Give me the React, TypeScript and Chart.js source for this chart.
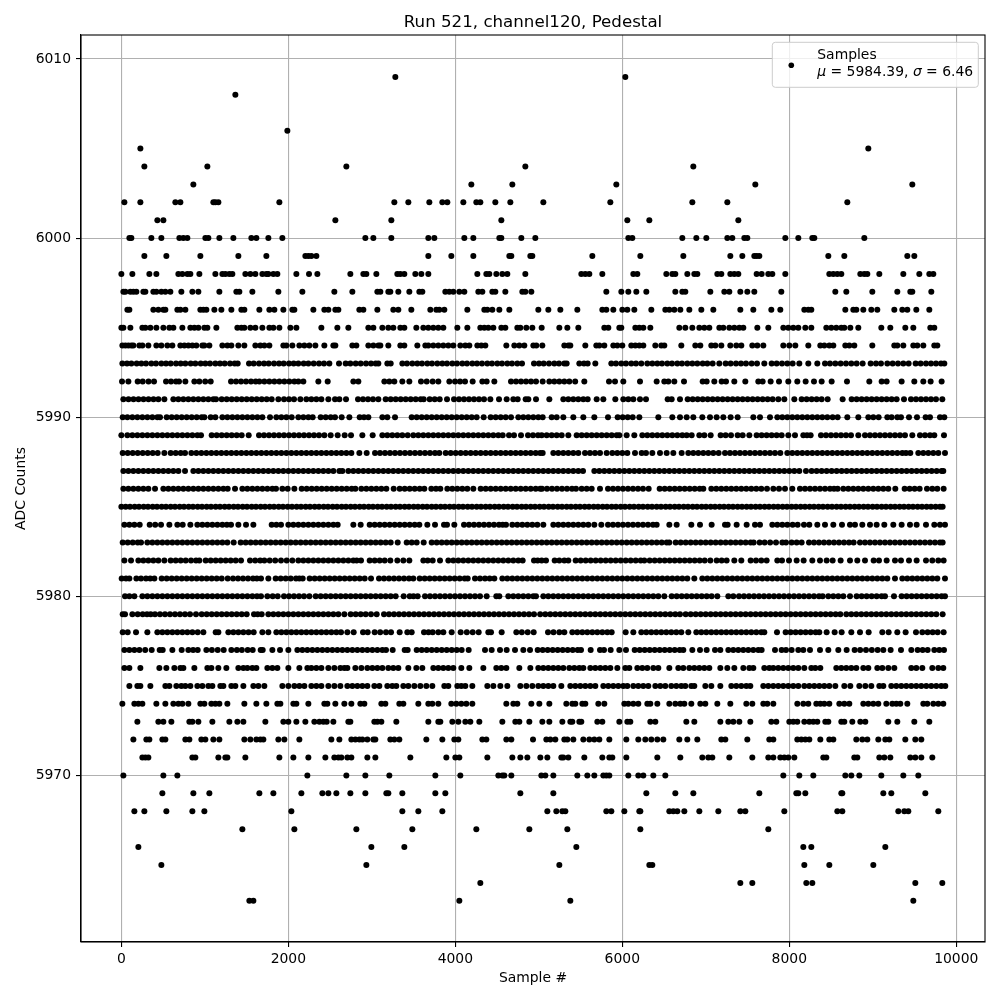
import React, { useEffect, useRef } from "react";
import { Chart, registerables } from "chart.js";

Chart.register(...registerables);

const chartTitle = "Run 521, channel120, Pedestal";
const xLabel = "Sample #";
const yLabel = "ADC Counts";
const legendName = "Samples";
const legendMu = "5984.39";
const legendSigma = "6.46";
const xTickValues = [0, 2000, 4000, 6000, 8000, 10000];
const yTickValues = [5970, 5980, 5990, 6000, 6010];

// Sample numbers for each ADC level.
const adc6009 = [3292, 6052];
const adc6008 = [1372];
const adc6006 = [1996];
const adc6005 = [232, 8968];
const adc6004 = [280, 1036, 2704, 4852, 6868];
const adc6003 = [868, 4204, 4696, 5944, 7612, 9496];
const adc6002 = [40, 232, 652, 712, 1108, 1132, 1168, 1900, 3280, 3448, 3700, 3856, 3916, 4108, 4264, 4312, 4492, 4672, 5068, 5872, 6856, 7276, 8716];
const adc6001 = [436, 508, 2572, 3244, 4564, 6076, 6340, 7408];
const adc6000 = [100, 124, 364, 484, 700, 748, 796, 1012, 1048, 1180, 1348, 1564, 1624, 1768, 1936, 2932, 3028, 3244, 3688, 3760, 4120, 4228, 4540, 4564, 4804, 4972, 6088, 6136, 6736, 6904, 7024, 7276, 7336, 7480, 7516, 7972, 8128, 8296, 8320, 8920];
const adc5999 = [280, 544, 952, 1408, 1744, 2212, 2248, 2284, 2344, 3688, 3964, 4228, 4660, 4684, 4912, 4936, 5656, 6232, 6748, 7312, 7456, 7600, 7628, 7660, 8488, 8680, 9436, 9520];
const adc5998 = [4, 136, 340, 424, 688, 736, 796, 832, 940, 1132, 1216, 1252, 1300, 1336, 1492, 1552, 1612, 1696, 1744, 1768, 1828, 1876, 2104, 2256, 2356, 2752, 2908, 2944, 3064, 3316, 3352, 3400, 3532, 3604, 3688, 4276, 4384, 4420, 4504, 4576, 4636, 4852, 5524, 5572, 5620, 5776, 6148, 6196, 6544, 6616, 6652, 6796, 6880, 6916, 7156, 7204, 7312, 7360, 7408, 7628, 7688, 7768, 7816, 7972, 8500, 8548, 8596, 8644, 8872, 8920, 8956, 9100, 9388, 9580, 9700, 9748];
const adc5997 = [28, 52, 112, 148, 184, 268, 292, 388, 424, 484, 532, 592, 724, 856, 928, 1180, 1384, 1420, 1576, 1888, 2176, 2560, 2776, 3076, 3112, 3208, 3232, 3328, 3460, 3580, 3616, 3892, 3940, 3988, 4060, 4120, 4288, 4336, 4456, 4492, 4612, 4816, 4852, 4924, 5824, 6004, 6088, 6184, 6304, 6652, 6736, 6772, 7072, 7240, 7300, 7432, 7516, 7600, 7924, 8572, 8704, 9016, 9316, 9472, 9496, 9724];
const adc5996 = [76, 100, 388, 448, 508, 532, 676, 712, 772, 952, 988, 1024, 1120, 1204, 1324, 1444, 1480, 1660, 1780, 1840, 1948, 2056, 2080, 2308, 2440, 2488, 2572, 2608, 2860, 2908, 3076, 3268, 3328, 3484, 3712, 3784, 3820, 3880, 4156, 4360, 4396, 4456, 4540, 4660, 5008, 5128, 5272, 5476, 5776, 5824, 5908, 6016, 6076, 6160, 6364, 6532, 6580, 6640, 6712, 6820, 6964, 7108, 7432, 7588, 7804, 7912, 8200, 8248, 8284, 8692, 8788, 8824, 8908, 9004, 9076, 9280, 9376, 9436, 9544, 9700];
const adc5995 = [4, 28, 112, 256, 292, 352, 424, 508, 580, 628, 736, 832, 880, 928, 1000, 1036, 1144, 1396, 1444, 1480, 1552, 1612, 1696, 1780, 1828, 1900, 2032, 2104, 2404, 2596, 2728, 2968, 3028, 3136, 3208, 3268, 3352, 3400, 3544, 3628, 3688, 3748, 3808, 3868, 4036, 4156, 4312, 4360, 4408, 4468, 4564, 4612, 4756, 4792, 4864, 4936, 5048, 5260, 5356, 5488, 5800, 5848, 5980, 6004, 6172, 6220, 6268, 6352, 6700, 6772, 6856, 6940, 7000, 7060, 7180, 7228, 7300, 7360, 7420, 7468, 7636, 7768, 7948, 8008, 8068, 8128, 8212, 8284, 8464, 8524, 8584, 8644, 8680, 8752, 8848, 9124, 9232, 9412, 9508, 9712, 9760];
const adc5994 = [16, 52, 88, 124, 148, 220, 256, 328, 424, 484, 556, 616, 712, 760, 808, 856, 904, 976, 1000, 1060, 1216, 1276, 1324, 1408, 1480, 1612, 1672, 1720, 1780, 1948, 1984, 2056, 2140, 2200, 2260, 2332, 2440, 2548, 2572, 2776, 2824, 2968, 3028, 3088, 3112, 3208, 3352, 3400, 3556, 3652, 3688, 3748, 3808, 3868, 3928, 3988, 4072, 4132, 4180, 4276, 4324, 4372, 4624, 4720, 4780, 4840, 4948, 4984, 5056, 5320, 5368, 5392, 5572, 5704, 5740, 5800, 5908, 5956, 6016, 6124, 6172, 6220, 6268, 6412, 6484, 6520, 6724, 6892, 6952, 7084, 7132, 7204, 7312, 7384, 7444, 7576, 7636, 7708, 7948, 8020, 8092, 8248, 8392, 8440, 8500, 8548, 8692, 8740, 8800, 9016, 9280, 9316, 9388, 9508, 9556, 9628, 9760, 9796];
const adc5993 = [16, 72, 124, 188, 244, 300, 364, 420, 484, 540, 596, 660, 716, 772, 836, 892, 956, 1012, 1068, 1132, 1188, 1244, 1308, 1364, 1400, 1536, 1592, 1656, 1716, 1772, 1836, 1896, 1952, 2016, 2072, 2128, 2192, 2248, 2312, 2376, 2436, 2500, 2616, 2696, 2752, 2816, 2876, 2940, 3000, 3056, 3088, 3196, 3236, 3376, 3432, 3496, 3556, 3612, 3676, 3732, 3796, 3856, 3912, 3976, 4032, 4096, 4152, 4216, 4272, 4332, 4396, 4452, 4516, 4572, 4636, 4692, 4756, 4812, 4956, 5016, 5072, 5136, 5200, 5256, 5320, 5348, 5500, 5556, 5600, 5692, 5884, 5940, 6004, 6060, 6124, 6180, 6244, 6316, 6376, 6436, 6492, 6556, 6612, 6676, 6732, 6796, 6856, 6916, 6980, 7036, 7100, 7180, 7256, 7316, 7380, 7440, 7500, 7568, 7632, 7720, 7808, 7868, 7932, 7996, 8060, 8140, 8248, 8356, 8448, 8508, 8572, 8636, 8700, 8764, 8828, 8900, 8996, 9060, 9120, 9196, 9260, 9324, 9388, 9452, 9536, 9596, 9660, 9720, 9780, 9840, 9880];
const adc5992 = [12, 88, 200, 260, 330, 396, 540, 600, 660, 696, 772, 880, 940, 1010, 1076, 1320, 1380, 1440, 1500, 1560, 1616, 1660, 1720, 1780, 1840, 1900, 1960, 2020, 2080, 2128, 2188, 2368, 2480, 2788, 2848, 3160, 3220, 3280, 3376, 3460, 3600, 3668, 3740, 3808, 3940, 4008, 4068, 4128, 4220, 4336, 4388, 4480, 4680, 4740, 4800, 4860, 4920, 4980, 5060, 5140, 5200, 5260, 5320, 5380, 5450, 5560, 5856, 5928, 6028, 6228, 6428, 6520, 6568, 6640, 6756, 6980, 7028, 7120, 7208, 7260, 7360, 7492, 7648, 7700, 7796, 7896, 8008, 8116, 8216, 8316, 8408, 8528, 8712, 8980, 9128, 9188, 9368, 9520, 9628, 9716, 9848];
const adc5991 = [28, 90, 150, 210, 270, 330, 390, 448, 520, 628, 688, 748, 808, 868, 928, 988, 1048, 1108, 1140, 1208, 1268, 1328, 1388, 1448, 1508, 1568, 1628, 1688, 1748, 1808, 1888, 1956, 2016, 2076, 2152, 2224, 2284, 2344, 2404, 2488, 2568, 2620, 2700, 2844, 2904, 2964, 3024, 3088, 3176, 3236, 3296, 3356, 3416, 3476, 3536, 3596, 3632, 3704, 3764, 3824, 3912, 3996, 4056, 4116, 4176, 4236, 4296, 4356, 4432, 4536, 4628, 4708, 4760, 4856, 4888, 4980, 5140, 5308, 5368, 5428, 5488, 5548, 5600, 5708, 5788, 5932, 6028, 6088, 6148, 6228, 6300, 6560, 6608, 6708, 6800, 6860, 6920, 6980, 7040, 7100, 7160, 7220, 7280, 7340, 7400, 7460, 7520, 7580, 7640, 7700, 7760, 7820, 7888, 7960, 8080, 8168, 8228, 8288, 8348, 8408, 8480, 8660, 8768, 8828, 8888, 8948, 9008, 9068, 9128, 9188, 9248, 9308, 9396, 9480, 9540, 9600, 9660, 9720, 9780, 9856];
const adc5990 = [20, 76, 136, 196, 256, 316, 376, 436, 468, 548, 608, 668, 728, 788, 848, 908, 968, 1000, 1076, 1132, 1216, 1276, 1336, 1396, 1456, 1516, 1576, 1636, 1696, 1788, 1864, 1924, 1984, 2048, 2128, 2188, 2248, 2300, 2396, 2456, 2516, 2568, 2648, 2740, 2864, 2916, 2968, 3136, 3196, 3288, 3488, 3548, 3608, 3668, 3728, 3788, 3848, 3908, 3968, 4028, 4088, 4148, 4208, 4268, 4352, 4436, 4496, 4556, 4616, 4680, 4768, 4828, 4888, 4948, 5008, 5060, 5168, 5228, 5308, 5428, 5548, 5680, 5844, 5960, 6020, 6080, 6140, 6220, 6448, 6616, 6708, 6788, 6868, 6976, 7068, 7148, 7228, 7316, 7400, 7588, 7668, 7788, 7876, 7936, 7996, 8056, 8116, 8176, 8236, 8296, 8356, 8416, 8476, 8540, 8600, 8716, 8848, 8968, 9028, 9092, 9196, 9248, 9316, 9360, 9456, 9552, 9656, 9708, 9828, 9880];
const adc5989 = [4, 76, 136, 196, 256, 316, 376, 436, 496, 556, 616, 676, 736, 796, 856, 916, 960, 1088, 1148, 1208, 1268, 1328, 1388, 1448, 1532, 1656, 1716, 1776, 1836, 1896, 1956, 2016, 2076, 2136, 2196, 2256, 2316, 2376, 2440, 2516, 2600, 2684, 2760, 2896, 3020, 3136, 3196, 3256, 3316, 3376, 3440, 3508, 3568, 3628, 3688, 3748, 3808, 3868, 3928, 3988, 4048, 4108, 4168, 4228, 4288, 4348, 4408, 4468, 4528, 4580, 4656, 4716, 4800, 4884, 4944, 5004, 5048, 5108, 5168, 5228, 5288, 5368, 5468, 5528, 5588, 5648, 5708, 5768, 5828, 5888, 5948, 5980, 6068, 6160, 6256, 6316, 6376, 6436, 6496, 6556, 6616, 6676, 6736, 6788, 6848, 6940, 7000, 7076, 7196, 7256, 7320, 7400, 7460, 7540, 7628, 7688, 7748, 7808, 7868, 7928, 8008, 8088, 8188, 8232, 8276, 8400, 8460, 8520, 8580, 8640, 8700, 8760, 8848, 8928, 8988, 9048, 9108, 9168, 9228, 9288, 9348, 9408, 9496, 9588, 9648, 9708, 9760, 9876];
const adc5988 = [20, 80, 140, 200, 260, 320, 380, 440, 520, 596, 656, 716, 768, 844, 904, 964, 1024, 1084, 1144, 1204, 1264, 1324, 1384, 1444, 1504, 1564, 1624, 1684, 1744, 1804, 1864, 1924, 1984, 2044, 2104, 2164, 2224, 2284, 2344, 2404, 2464, 2524, 2584, 2644, 2704, 2764, 2860, 2948, 3048, 3108, 3168, 3228, 3288, 3348, 3408, 3468, 3528, 3588, 3648, 3708, 3768, 3820, 3896, 3956, 4016, 4076, 4136, 4196, 4256, 4316, 4376, 4436, 4496, 4556, 4616, 4676, 4736, 4796, 4856, 4916, 4976, 5030, 5060, 5188, 5248, 5308, 5368, 5428, 5488, 5568, 5628, 5688, 5748, 5828, 5896, 5956, 6016, 6076, 6168, 6248, 6300, 6376, 6468, 6548, 6628, 6728, 6808, 6868, 6928, 6988, 7048, 7108, 7172, 7248, 7308, 7368, 7428, 7488, 7548, 7608, 7668, 7728, 7788, 7848, 7912, 7996, 8056, 8116, 8176, 8236, 8296, 8356, 8416, 8476, 8536, 8596, 8656, 8716, 8776, 8836, 8896, 8956, 9016, 9076, 9136, 9196, 9256, 9316, 9376, 9420, 9472, 9568, 9628, 9688, 9748, 9808, 9888];
const adc5987 = [28, 88, 148, 208, 268, 328, 388, 448, 508, 568, 628, 688, 768, 868, 928, 988, 1048, 1108, 1168, 1228, 1288, 1348, 1408, 1468, 1528, 1588, 1648, 1708, 1768, 1828, 1888, 1948, 2008, 2068, 2128, 2188, 2248, 2308, 2368, 2428, 2488, 2548, 2620, 2656, 2728, 2788, 2848, 2908, 2968, 3028, 3088, 3148, 3208, 3268, 3328, 3388, 3448, 3508, 3568, 3628, 3688, 3748, 3808, 3868, 3928, 3988, 4048, 4108, 4168, 4228, 4288, 4348, 4408, 4468, 4528, 4588, 4648, 4708, 4768, 4828, 4888, 4948, 5008, 5068, 5128, 5188, 5248, 5308, 5368, 5428, 5488, 5544, 5680, 5740, 5800, 5860, 5920, 5980, 6040, 6100, 6160, 6220, 6280, 6340, 6400, 6460, 6520, 6580, 6640, 6700, 6760, 6820, 6880, 6940, 7000, 7060, 7120, 7180, 7240, 7300, 7360, 7420, 7480, 7540, 7600, 7660, 7720, 7780, 7840, 7900, 7960, 8020, 8080, 8140, 8220, 8288, 8348, 8408, 8468, 8528, 8588, 8648, 8708, 8768, 8828, 8888, 8948, 9008, 9068, 9128, 9188, 9248, 9308, 9368, 9428, 9488, 9548, 9608, 9668, 9728, 9788, 9848, 9868];
const adc5986 = [28, 88, 148, 208, 268, 328, 408, 508, 568, 628, 688, 748, 808, 868, 928, 988, 1048, 1108, 1168, 1228, 1280, 1368, 1456, 1516, 1576, 1636, 1696, 1756, 1816, 1860, 1936, 2000, 2080, 2168, 2228, 2288, 2348, 2408, 2468, 2528, 2588, 2648, 2708, 2768, 2812, 2884, 2944, 3004, 3064, 3124, 3184, 3272, 3344, 3404, 3464, 3524, 3584, 3640, 3724, 3780, 3832, 3916, 3976, 4036, 4096, 4156, 4228, 4316, 4376, 4436, 4496, 4556, 4616, 4676, 4736, 4796, 4856, 4916, 4976, 5030, 5052, 5112, 5172, 5232, 5292, 5352, 5412, 5460, 5528, 5588, 5648, 5748, 5844, 5904, 5964, 6024, 6084, 6144, 6204, 6264, 6332, 6464, 6524, 6584, 6644, 6704, 6764, 6824, 6884, 6944, 6988, 7084, 7144, 7204, 7264, 7324, 7384, 7444, 7504, 7564, 7624, 7684, 7752, 7828, 7896, 7968, 8056, 8148, 8208, 8268, 8328, 8388, 8448, 8508, 8556, 8600, 8668, 8728, 8788, 8848, 8908, 8968, 9028, 9088, 9148, 9208, 9292, 9404, 9464, 9524, 9584, 9672, 9736, 9796, 9872];
const adc5985 = [4, 56, 108, 164, 216, 272, 324, 380, 432, 488, 540, 596, 648, 704, 756, 812, 864, 920, 972, 1028, 1080, 1136, 1188, 1244, 1296, 1352, 1404, 1460, 1512, 1568, 1620, 1676, 1728, 1784, 1836, 1892, 1944, 2000, 2052, 2108, 2160, 2216, 2268, 2324, 2376, 2432, 2484, 2540, 2592, 2648, 2700, 2756, 2808, 2864, 2916, 2972, 3024, 3080, 3132, 3188, 3240, 3296, 3348, 3404, 3456, 3512, 3564, 3620, 3672, 3728, 3780, 3836, 3888, 3944, 3996, 4052, 4104, 4160, 4212, 4268, 4320, 4376, 4428, 4484, 4536, 4592, 4644, 4700, 4752, 4808, 4860, 4916, 4968, 5024, 5076, 5132, 5184, 5240, 5292, 5348, 5400, 5456, 5508, 5564, 5616, 5672, 5724, 5780, 5832, 5888, 5940, 5996, 6048, 6104, 6156, 6212, 6264, 6320, 6372, 6428, 6480, 6536, 6588, 6644, 6696, 6752, 6804, 6860, 6912, 6968, 7020, 7076, 7128, 7184, 7236, 7292, 7344, 7400, 7452, 7508, 7560, 7616, 7668, 7724, 7776, 7832, 7884, 7940, 7992, 8048, 8100, 8156, 8208, 8264, 8316, 8372, 8424, 8480, 8532, 8588, 8640, 8696, 8748, 8804, 8856, 8912, 8964, 9020, 9072, 9128, 9180, 9236, 9288, 9344, 9396, 9452, 9504, 9560, 9612, 9668, 9720, 9776, 9828, 9860];
const adc5984 = [40, 100, 160, 224, 344, 410, 480, 580, 676, 740, 832, 916, 976, 1036, 1096, 1156, 1216, 1270, 1320, 1408, 1500, 1588, 1808, 1864, 1920, 2008, 2068, 2128, 2188, 2248, 2308, 2368, 2428, 2488, 2548, 2600, 2788, 2876, 2984, 3044, 3104, 3164, 3224, 3284, 3344, 3404, 3464, 3524, 3580, 3676, 3768, 3876, 3912, 4000, 4116, 4176, 4236, 4296, 4356, 4416, 4476, 4536, 4580, 4620, 4696, 4756, 4816, 4876, 4936, 4996, 5068, 5188, 5248, 5308, 5368, 5428, 5488, 5548, 5608, 5680, 5764, 5844, 5904, 5964, 6024, 6084, 6144, 6204, 6264, 6324, 6384, 6428, 6580, 6668, 6844, 6948, 7088, 7248, 7280, 7388, 7508, 7608, 7668, 7816, 7876, 7936, 7996, 8060, 8120, 8196, 8260, 8356, 8448, 8548, 8652, 8748, 8808, 8896, 8988, 9068, 9160, 9268, 9368, 9468, 9548, 9660, 9760, 9828, 9888];
const adc5983 = [20, 80, 140, 200, 240, 316, 376, 436, 496, 556, 616, 676, 736, 796, 856, 916, 976, 1036, 1096, 1156, 1216, 1276, 1352, 1436, 1496, 1556, 1616, 1676, 1736, 1796, 1856, 1916, 1976, 2036, 2096, 2156, 2216, 2276, 2336, 2396, 2456, 2516, 2576, 2636, 2696, 2756, 2816, 2876, 2936, 2996, 3056, 3116, 3176, 3236, 3320, 3428, 3488, 3548, 3632, 3728, 3788, 3848, 3908, 3968, 4028, 4088, 4148, 4208, 4268, 4328, 4388, 4448, 4508, 4568, 4628, 4688, 4748, 4808, 4868, 4928, 4988, 5048, 5108, 5168, 5228, 5288, 5348, 5408, 5468, 5528, 5588, 5648, 5708, 5768, 5828, 5888, 5948, 6008, 6068, 6128, 6188, 6248, 6308, 6368, 6428, 6488, 6548, 6580, 6656, 6716, 6776, 6836, 6896, 6956, 7016, 7076, 7136, 7196, 7256, 7316, 7376, 7436, 7496, 7556, 7592, 7664, 7724, 7790, 7860, 7936, 7980, 8048, 8108, 8168, 8256, 8316, 8376, 8436, 8496, 8556, 8616, 8676, 8736, 8792, 8868, 8928, 8988, 9048, 9108, 9168, 9228, 9288, 9348, 9408, 9468, 9528, 9588, 9648, 9708, 9768, 9828, 9860];
const adc5982 = [40, 120, 208, 268, 328, 388, 448, 520, 596, 656, 716, 776, 840, 900, 940, 1016, 1076, 1136, 1196, 1256, 1316, 1376, 1440, 1548, 1610, 1670, 1720, 1784, 1850, 1920, 1988, 2056, 2128, 2188, 2248, 2308, 2368, 2428, 2488, 2548, 2608, 2668, 2728, 2788, 2828, 2880, 2984, 3044, 3104, 3164, 3232, 3316, 3388, 3460, 3628, 3680, 3740, 3828, 3928, 3988, 4048, 4108, 4168, 4228, 4288, 4348, 4408, 4468, 4528, 4588, 4648, 4708, 4768, 4820, 4956, 5000, 5048, 5100, 5204, 5260, 5320, 5368, 5456, 5516, 5576, 5636, 5696, 5756, 5816, 5876, 5936, 5996, 6056, 6116, 6176, 6236, 6280, 6344, 6404, 6464, 6524, 6584, 6644, 6704, 6764, 6824, 6884, 6944, 7004, 7072, 7148, 7208, 7268, 7360, 7444, 7556, 7620, 7684, 7748, 7876, 7932, 8016, 8108, 8192, 8296, 8388, 8468, 8540, 8636, 8748, 8836, 8928, 9032, 9096, 9188, 9288, 9360, 9456, 9548, 9660, 9736, 9808, 9872];
const adc5981 = [8, 60, 100, 184, 240, 300, 350, 400, 488, 548, 608, 668, 728, 788, 848, 908, 968, 1028, 1088, 1148, 1208, 1280, 1344, 1404, 1464, 1524, 1584, 1630, 1680, 1768, 1856, 1916, 1976, 2036, 2100, 2140, 2180, 2264, 2324, 2384, 2444, 2504, 2564, 2624, 2684, 2744, 2804, 2864, 2924, 3000, 3096, 3156, 3216, 3276, 3336, 3396, 3456, 3508, 3584, 3644, 3704, 3764, 3824, 3884, 3944, 4004, 4064, 4124, 4160, 4248, 4308, 4368, 4424, 4480, 4576, 4636, 4696, 4756, 4816, 4876, 4936, 4996, 5056, 5116, 5176, 5236, 5296, 5356, 5416, 5476, 5536, 5596, 5656, 5716, 5776, 5836, 5896, 5956, 6016, 6076, 6136, 6196, 6256, 6316, 6376, 6436, 6496, 6556, 6616, 6676, 6736, 6796, 6880, 6976, 7036, 7096, 7156, 7216, 7276, 7336, 7396, 7456, 7516, 7576, 7636, 7696, 7756, 7816, 7876, 7936, 7996, 8056, 8116, 8176, 8236, 8296, 8356, 8416, 8476, 8536, 8596, 8656, 8716, 8776, 8836, 8896, 8956, 9016, 9076, 9136, 9196, 9288, 9376, 9436, 9496, 9556, 9616, 9676, 9736, 9796, 9888];
const adc5980 = [48, 100, 160, 256, 316, 376, 436, 496, 556, 616, 676, 736, 796, 856, 916, 976, 1036, 1096, 1156, 1216, 1276, 1336, 1396, 1456, 1516, 1576, 1632, 1680, 1756, 1820, 1880, 1956, 2016, 2076, 2136, 2196, 2260, 2336, 2396, 2456, 2516, 2576, 2636, 2696, 2756, 2816, 2876, 2936, 2996, 3056, 3116, 3176, 3236, 3296, 3392, 3464, 3510, 3560, 3648, 3708, 3768, 3828, 3888, 3948, 4008, 4068, 4128, 4188, 4248, 4308, 4388, 4504, 4540, 4648, 4708, 4768, 4828, 4888, 4948, 4980, 5068, 5128, 5188, 5248, 5308, 5368, 5428, 5488, 5548, 5608, 5668, 5728, 5788, 5848, 5908, 5968, 6028, 6088, 6148, 6208, 6268, 6328, 6388, 6448, 6520, 6608, 6668, 6728, 6788, 6848, 6908, 6968, 7028, 7088, 7156, 7288, 7348, 7416, 7476, 7536, 7596, 7656, 7716, 7776, 7836, 7896, 7956, 8016, 8076, 8136, 8196, 8256, 8316, 8376, 8420, 8488, 8548, 8608, 8668, 8748, 8828, 8888, 8948, 9008, 9068, 9128, 9168, 9276, 9368, 9428, 9488, 9548, 9608, 9668, 9728, 9788, 9848, 9888];
const adc5979 = [20, 48, 136, 200, 260, 312, 356, 408, 468, 528, 588, 648, 708, 768, 828, 900, 968, 1028, 1088, 1148, 1208, 1268, 1328, 1388, 1448, 1508, 1596, 1640, 1688, 1768, 1828, 1888, 1948, 2008, 2068, 2128, 2188, 2248, 2308, 2368, 2428, 2488, 2548, 2608, 2680, 2756, 2816, 2876, 2936, 3000, 3068, 3156, 3216, 3276, 3336, 3396, 3456, 3516, 3576, 3636, 3696, 3756, 3816, 3876, 3936, 3996, 4056, 4116, 4176, 4236, 4296, 4356, 4416, 4476, 4536, 4596, 4656, 4716, 4776, 4836, 4896, 4956, 5030, 5092, 5152, 5212, 5272, 5332, 5392, 5452, 5512, 5572, 5632, 5692, 5752, 5812, 5872, 5932, 5992, 6052, 6112, 6172, 6232, 6292, 6352, 6412, 6472, 6532, 6592, 6652, 6708, 6776, 6836, 6896, 6956, 7016, 7076, 7136, 7196, 7256, 7316, 7376, 7436, 7496, 7556, 7616, 7676, 7736, 7796, 7856, 7916, 7976, 8036, 8096, 8156, 8216, 8276, 8336, 8396, 8456, 8516, 8576, 8632, 8704, 8764, 8824, 8884, 8944, 9004, 9064, 9124, 9184, 9244, 9304, 9364, 9424, 9484, 9544, 9604, 9664, 9724, 9784, 9860];
const adc5978 = [20, 80, 180, 316, 436, 496, 556, 616, 676, 736, 796, 856, 920, 988, 1136, 1168, 1288, 1348, 1408, 1468, 1530, 1592, 1696, 1768, 1864, 1924, 1984, 2044, 2104, 2164, 2224, 2284, 2344, 2404, 2464, 2524, 2584, 2640, 2716, 2792, 2904, 2960, 3044, 3110, 3180, 3240, 3344, 3436, 3488, 3636, 3690, 3740, 3808, 3868, 3968, 4076, 4150, 4220, 4292, 4408, 4440, 4568, 4744, 4810, 4880, 4952, 5124, 5190, 5260, 5320, 5416, 5476, 5536, 5596, 5656, 5716, 5776, 5836, 5888, 6056, 6148, 6244, 6304, 6364, 6424, 6484, 6544, 6604, 6664, 6724, 6808, 6904, 6964, 7024, 7084, 7144, 7204, 7264, 7324, 7384, 7444, 7504, 7564, 7624, 7684, 7720, 7872, 7976, 8036, 8096, 8156, 8216, 8276, 8336, 8380, 8468, 8564, 8648, 8764, 8868, 8972, 9136, 9212, 9316, 9416, 9540, 9616, 9680, 9740, 9800, 9872];
const adc5977 = [40, 100, 160, 220, 290, 368, 464, 500, 616, 728, 808, 865, 920, 1024, 1090, 1160, 1232, 1324, 1390, 1450, 1520, 1580, 1676, 1700, 1816, 1908, 2008, 2116, 2176, 2236, 2296, 2356, 2416, 2476, 2536, 2596, 2656, 2716, 2776, 2836, 2896, 2956, 3016, 3076, 3136, 3180, 3260, 3404, 3440, 3548, 3608, 3668, 3728, 3788, 3848, 3908, 3968, 4028, 4088, 4172, 4368, 4448, 4548, 4628, 4728, 4828, 4908, 5000, 5060, 5120, 5180, 5240, 5300, 5360, 5420, 5480, 5520, 5636, 5748, 5796, 5876, 5980, 6060, 6164, 6224, 6284, 6344, 6404, 6464, 6524, 6584, 6644, 6704, 6748, 6856, 6948, 7028, 7128, 7192, 7288, 7348, 7408, 7468, 7528, 7588, 7648, 7688, 7848, 7928, 7980, 8048, 8128, 8188, 8268, 8388, 8488, 8608, 8708, 8804, 8870, 8940, 9010, 9080, 9148, 9236, 9360, 9484, 9560, 9620, 9680, 9760, 9820, 9876];
const adc5976 = [40, 100, 232, 460, 544, 640, 712, 748, 880, 1036, 1084, 1168, 1264, 1408, 1468, 1516, 1576, 1624, 1756, 1816, 1876, 2008, 2140, 2236, 2284, 2344, 2404, 2488, 2560, 2632, 2680, 2716, 2812, 2884, 2956, 3016, 3076, 3136, 3208, 3268, 3328, 3448, 3544, 3616, 3748, 3808, 3868, 3928, 3988, 4084, 4180, 4348, 4504, 4564, 4624, 4780, 4912, 5008, 5068, 5128, 5188, 5248, 5308, 5380, 5440, 5500, 5548, 5632, 5692, 5752, 5812, 5872, 5956, 6052, 6100, 6196, 6256, 6316, 6388, 6448, 6580, 6688, 6748, 6820, 6880, 6940, 7000, 7060, 7192, 7276, 7360, 7468, 7540, 7588, 7720, 7780, 7828, 7888, 7948, 8008, 8068, 8128, 8200, 8284, 8332, 8392, 8584, 8644, 8704, 8764, 8824, 8908, 8968, 9076, 9136, 9208, 9280, 9484, 9544, 9616, 9736, 9808, 9868];
const adc5975 = [100, 196, 232, 352, 532, 580, 664, 724, 772, 832, 916, 976, 1048, 1096, 1192, 1228, 1324, 1372, 1468, 1588, 1648, 1720, 1936, 2008, 2080, 2140, 2200, 2284, 2344, 2404, 2488, 2560, 2632, 2716, 2776, 2836, 2896, 2956, 3040, 3100, 3196, 3256, 3304, 3388, 3448, 3520, 3592, 3664, 3736, 3880, 3928, 4036, 4084, 4132, 4216, 4396, 4468, 4552, 4636, 4792, 4864, 4936, 5008, 5068, 5128, 5188, 5284, 5392, 5452, 5512, 5572, 5632, 5692, 5788, 5848, 5908, 5968, 6028, 6076, 6148, 6208, 6268, 6328, 6412, 6472, 6532, 6604, 6664, 6724, 6772, 6844, 6880, 7012, 7084, 7192, 7324, 7384, 7444, 7504, 7552, 7708, 7768, 7828, 7888, 7948, 8008, 8068, 8128, 8200, 8260, 8320, 8380, 8440, 8500, 8572, 8680, 8752, 8860, 8932, 9004, 9100, 9148, 9244, 9304, 9364, 9424, 9484, 9544, 9604, 9664, 9724, 9784, 9844, 9892];
const adc5974 = [16, 160, 208, 256, 424, 532, 628, 688, 736, 808, 952, 1000, 1084, 1132, 1180, 1276, 1480, 1624, 1744, 1876, 1912, 2068, 2104, 2248, 2440, 2476, 2572, 2680, 2764, 2872, 2920, 3124, 3172, 3340, 3388, 3568, 3688, 3736, 3808, 3964, 4024, 4084, 4144, 4216, 4624, 4708, 4756, 4924, 5020, 5140, 5344, 5416, 5452, 5536, 5572, 5728, 5800, 6040, 6088, 6148, 6208, 6316, 6352, 6436, 6580, 6652, 6712, 6760, 6844, 6952, 7012, 7156, 7312, 7504, 7576, 7708, 7756, 7828, 8116, 8188, 8248, 8344, 8392, 8440, 8500, 8620, 8680, 8740, 8908, 8968, 9028, 9088, 9184, 9256, 9304, 9352, 9436, 9628, 9676, 9748, 9808, 9868];
const adc5973 = [196, 448, 508, 604, 820, 856, 928, 1096, 1300, 1396, 1468, 1732, 1948, 2008, 2104, 2212, 2320, 2380, 2428, 2468, 2548, 2728, 2752, 3040, 3076, 3124, 3304, 3688, 3808, 3832, 3976, 4048, 4132, 4192, 4300, 4576, 4732, 4780, 4900, 5056, 5140, 5296, 5392, 5416, 5500, 5524, 5716, 5776, 5980, 6076, 6112, 6352, 6412, 6784, 6880, 7192, 7288, 7348, 7420, 7552, 7804, 7864, 8020, 8068, 8116, 8200, 8260, 8308, 8356, 8452, 8488, 8644, 8680, 8776, 8872, 8932, 9208, 9316, 9520, 9700];
const adc5972 = [148, 304, 340, 496, 532, 772, 820, 964, 1012, 1108, 1180, 1480, 1552, 1624, 1672, 1708, 1888, 1960, 2140, 2524, 2620, 2764, 2812, 2860, 2896, 2956, 3028, 3052, 3232, 3280, 3340, 3664, 3856, 4000, 4048, 4336, 4384, 4624, 4684, 4944, 5104, 5152, 5212, 5320, 5356, 5428, 5548, 5620, 5680, 5740, 5860, 6064, 6208, 6292, 6364, 6436, 6508, 6700, 6796, 6916, 7204, 7252, 7516, 7780, 7828, 8116, 8164, 8212, 8260, 8392, 8500, 8548, 8824, 8896, 8956, 9088, 9172, 9220, 9412, 9532, 9604];
const adc5971 = [256, 292, 328, 856, 892, 1168, 1252, 1276, 1492, 1900, 2068, 2248, 2452, 2560, 2608, 2644, 2716, 2764, 2956, 3052, 3472, 3904, 4012, 4060, 4396, 4696, 4792, 4876, 5032, 5116, 5284, 5308, 5368, 5560, 5776, 5860, 5896, 6064, 6436, 6712, 6976, 7048, 7096, 7300, 7576, 7768, 7828, 7912, 7960, 8008, 8080, 8428, 8464, 8800, 8836, 9100, 9160, 9232, 9472, 9532, 9604, 9736];
const adc5970 = [28, 508, 676, 2236, 2704, 2932, 3220, 3772, 4072, 4528, 4576, 4600, 4684, 5044, 5092, 5188, 5476, 5596, 5680, 5788, 5824, 5860, 6088, 6208, 6268, 6388, 6532, 7948, 8140, 8308, 8692, 8764, 8860, 9124, 9388, 9568];
const adc5969 = [496, 868, 1060, 1660, 1828, 2164, 2416, 2488, 2584, 2752, 2932, 3184, 3208, 3376, 3772, 3892, 4792, 5188, 6304, 6652, 6868, 7660, 8104, 8128, 8212, 8644, 8656, 9148, 9244, 9652];
const adc5968 = [160, 280, 544, 856, 1000, 2044, 3376, 3568, 3856, 5116, 5224, 5296, 5332, 5824, 5884, 6040, 6220, 6232, 6580, 6628, 6676, 6760, 6940, 7168, 7432, 7492, 7960, 8596, 8656, 9328, 9400, 9448, 9808];
const adc5967 = [1456, 2080, 2824, 3496, 4264, 4900, 5356, 6232, 7768];
const adc5966 = [208, 3004, 3400, 5464, 8188, 8284, 9172];
const adc5965 = [484, 2944, 5260, 6340, 6376, 8200, 8500, 9028];
const adc5964 = [4312, 7432, 7576, 8224, 8296, 9532, 9856];
const adc5963 = [1540, 1588, 4060, 5392, 9508];

const adcLevels = [6009, 6008, 6006, 6005, 6004, 6003, 6002, 6001, 6000, 5999, 5998, 5997, 5996, 5995, 5994, 5993, 5992, 5991, 5990, 5989, 5988, 5987, 5986, 5985, 5984, 5983, 5982, 5981, 5980, 5979, 5978, 5977, 5976, 5975, 5974, 5973, 5972, 5971, 5970, 5969, 5968, 5967, 5966, 5965, 5964, 5963];
const samplesByLevel = [adc6009, adc6008, adc6006, adc6005, adc6004, adc6003, adc6002, adc6001, adc6000, adc5999, adc5998, adc5997, adc5996, adc5995, adc5994, adc5993, adc5992, adc5991, adc5990, adc5989, adc5988, adc5987, adc5986, adc5985, adc5984, adc5983, adc5982, adc5981, adc5980, adc5979, adc5978, adc5977, adc5976, adc5975, adc5974, adc5973, adc5972, adc5971, adc5970, adc5969, adc5968, adc5967, adc5966, adc5965, adc5964, adc5963];

// Small calibration of the readings above onto the axis scale.
const readingGain = 0.998;
const readingOffset = -3.6;

const points = adcLevels.flatMap((level, i) =>
  samplesByLevel[i].map((s) => ({ x: s * readingGain + readingOffset, y: level }))
);

const FONT = "'DejaVu Sans', sans-serif";

const frameAndLegend = {
  id: "frameAndLegend",
  afterDatasetsDraw(chart: any) {
    const { ctx, chartArea: a } = chart;
    ctx.save();
    ctx.strokeStyle = "#000";
    ctx.lineWidth = 1.1;
    ctx.strokeRect(a.left, a.top, a.right - a.left, a.bottom - a.top);

    const bx = a.right - 212.7;
    const by = a.top + 7.3;
    const bw = 206;
    const bh = 45;
    ctx.beginPath();
    ctx.roundRect(bx, by, bw, bh, 3);
    ctx.fillStyle = "rgba(255,255,255,0.8)";
    ctx.fill();
    ctx.strokeStyle = "#cccccc";
    ctx.lineWidth = 1;
    ctx.stroke();

    ctx.fillStyle = "#000";
    ctx.beginPath();
    ctx.arc(bx + 19, by + 23, 2.8, 0, Math.PI * 2);
    ctx.fill();

    ctx.textBaseline = "alphabetic";
    ctx.textAlign = "left";
    const tx = bx + 45;
    ctx.font = `13.9px ${FONT}`;
    ctx.fillText(legendName, tx, by + 17);
    const pieces: [string, boolean][] = [
      ["μ", true],
      [` = ${legendMu}, `, false],
      ["σ", true],
      [` = ${legendSigma}`, false],
    ];
    let cx = tx;
    for (const [text, italic] of pieces) {
      ctx.font = `${italic ? "italic " : ""}13.9px ${FONT}`;
      ctx.fillText(text, cx, by + 33.5);
      cx += ctx.measureText(text).width;
    }
    ctx.restore();
  },
};

export default function App() {
  const ref = useRef<HTMLCanvasElement | null>(null);
  useEffect(() => {
    document.body.style.margin = "0";
    const chart = new Chart(ref.current as HTMLCanvasElement, {
      type: "scatter",
      data: {
        datasets: [
          {
            label: legendName,
            data: points,
            backgroundColor: "#000",
            borderColor: "#000",
            pointRadius: 3,
            pointBorderWidth: 0,
          },
        ],
      },
      options: {
        animation: false,
        responsive: false,
        layout: { padding: { left: 0, right: 15, top: 0, bottom: 0 } },
        plugins: {
          legend: { display: false },
          tooltip: { enabled: false },
          title: {
            display: true,
            text: chartTitle,
            color: "#000",
            fullSize: false,
            font: { family: FONT, size: 16.67, weight: "normal", lineHeight: 1.2 },
            padding: { top: 13, bottom: 2 },
          },
        },
        scales: {
          x: {
            type: "linear",
            min: -483,
            max: 10344,
            afterFit(s: any) {
              s.height = 58;
              s.paddingLeft = 0;
              s.paddingRight = 0;
            },
            afterBuildTicks(s: any) {
              s.ticks = xTickValues.map((value) => ({ value }));
            },
            border: { color: "#000", width: 1.1 },
            grid: { color: "#b0b0b0", lineWidth: 1.1, tickColor: "#000", tickLength: 5, tickWidth: 1.1 },
            ticks: {
              autoSkip: false,
              color: "#000",
              maxRotation: 0,
              padding: 4,
              font: { family: FONT, size: 13.9 },
              callback: (v: any) => String(v),
            },
            title: { display: true, text: xLabel, color: "#000", font: { family: FONT, size: 13.9 }, padding: { top: 0, bottom: 13 } },
          },
          y: {
            type: "linear",
            min: 5960.7,
            max: 6011.34,
            afterFit(s: any) {
              s.width = 81;
            },
            afterBuildTicks(s: any) {
              s.ticks = yTickValues.map((value) => ({ value }));
            },
            border: { color: "#000", width: 1.1 },
            grid: { color: "#b0b0b0", lineWidth: 1.1, tickColor: "#000", tickLength: 5, tickWidth: 1.1 },
            ticks: {
              autoSkip: false,
              color: "#000",
              padding: 5,
              font: { family: FONT, size: 13.9 },
              callback: (v: any) => String(v),
            },
            title: { display: true, text: yLabel, color: "#000", font: { family: FONT, size: 13.9 }, padding: { top: 13, bottom: 0 } },
          },
        },
      },
      plugins: [frameAndLegend],
    } as any);
    return () => chart.destroy();
  }, []);
  return <canvas ref={ref} width={1000} height={1000} style={{ display: "block" }} />;
}
